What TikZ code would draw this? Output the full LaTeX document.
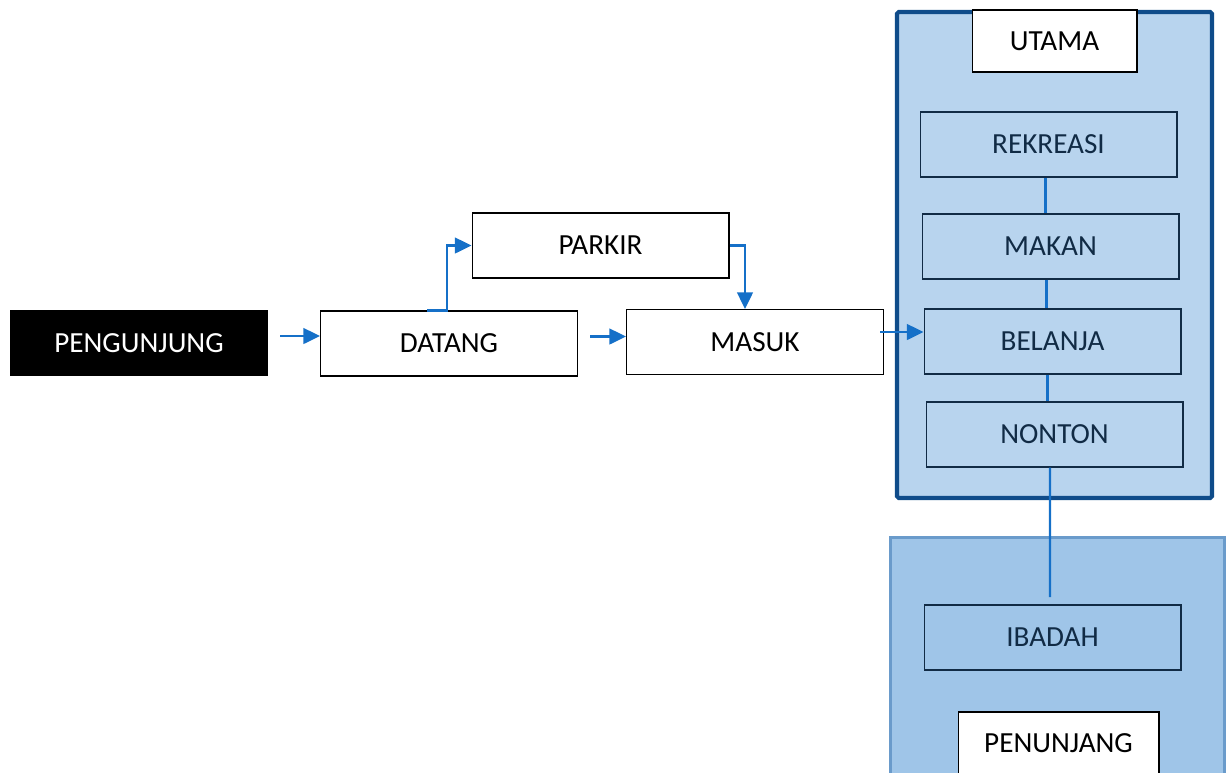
\documentclass[tikz,border=0pt]{standalone}
\usepackage{fontspec}
\setmainfont{Carlito}
\usetikzlibrary{arrows.meta,positioning}

\definecolor{panahbiru}{HTML}{1570C8}
\definecolor{birumuda}{HTML}{B8D4EE}
\definecolor{birutua}{HTML}{0F4C8A}
\definecolor{birupenunjang}{HTML}{9FC5E8}
\definecolor{garispenunjang}{HTML}{6A9BCB}
\definecolor{teksbiru}{HTML}{112B45}

\tikzset{
	kotak/.style={draw=black, line width=0.6pt, fill=white, minimum width=5.14cm, minimum height=1.3cm, inner sep=0pt, font=\fontsize{16.6}{18}\selectfont},
	kotakbiru/.style={kotak, draw=teksbiru, fill=none, text=teksbiru},
	judul/.style={kotak, minimum width=3.3cm, minimum height=1.24cm},
	panah/.style={draw=panahbiru, line width=1.2pt, -{Triangle[length=9.5pt,width=9pt]}},
	garis/.style={draw=panahbiru, line width=1.2pt},
}

\begin{document}
\begin{tikzpicture}[x=0.02cm, y=-0.02cm]
	\useasboundingbox (0,0) rectangle (1227,772);
	\clip (0,0) rectangle (1227,772);

%panel utama
	\draw[birutua, fill=birumuda, line width=2.3pt, rounded corners=1pt] (897,12) rectangle (1212,498);
	\node[judul] (utama) at (1054.5,41) {UTAMA};
	%isi
	\node[kotakbiru] (rekreasi) at (1048.5,144.5) {REKREASI};
	\node[kotakbiru] (makan) at (1050.5,246.5) {MAKAN};
	\node[kotakbiru] (belanja) at (1052.5,341.5) {BELANJA};
	\node[kotakbiru] (nonton) at (1054.5,434.5) {NONTON};

%panel penunjang
	\draw[garispenunjang, fill=birupenunjang, line width=1.7pt] (890,537) rectangle (1224,800);
	\node[kotakbiru] (ibadah) at (1052.5,637.5) {IBADAH};
	\node[judul, minimum width=4.02cm] (penunjang) at (1058.5,743) {PENUNJANG};
	\coordinate (ujung) at (1050,597);

%alur
	\node[kotak, fill=black, text=white] (pengunjung) at (139,343) {PENGUNJUNG};
	\node[kotak] (datang) at (449,343.5) {DATANG};
	\node[kotak] (parkir) at (600.5,245.5) {PARKIR};
	\node[kotak] (masuk) at (755,342) {MASUK};

%panah
	\draw[panah, shorten <=7pt] ([yshift=0.14cm]pengunjung.east) -- ([yshift=0.14cm]pengunjung.east -| datang.west);
	\draw[panah, shorten <=7pt] ([yshift=0.14cm]datang.east) -- ([yshift=0.14cm]datang.east -| masuk.west);
	\draw[panah] ([xshift=-0.44cm]datang.north) -- ([xshift=-0.04cm]datang.north) |- (parkir.west);
	\draw[panah] (parkir.east) -| ([xshift=-0.2cm]masuk.north);
	\draw[panah] ([yshift=0.2cm,xshift=-0.08cm]masuk.east) -- ([yshift=0.2cm]masuk.east -| belanja.west);
	%garis antar kotak
	\draw[garis] ([xshift=-0.06cm]rekreasi.south) -- ([xshift=-0.06cm]rekreasi.south |- makan.north);
	\draw[garis] ([xshift=-0.08cm]makan.south) -- ([xshift=-0.08cm]makan.south |- belanja.north);
	\draw[garis] ([xshift=-0.1cm]belanja.south) -- ([xshift=-0.1cm]belanja.south |- nonton.north);
	\draw[garis] ([xshift=-0.09cm]nonton.south) -- (ujung);
\end{tikzpicture}
\end{document}
